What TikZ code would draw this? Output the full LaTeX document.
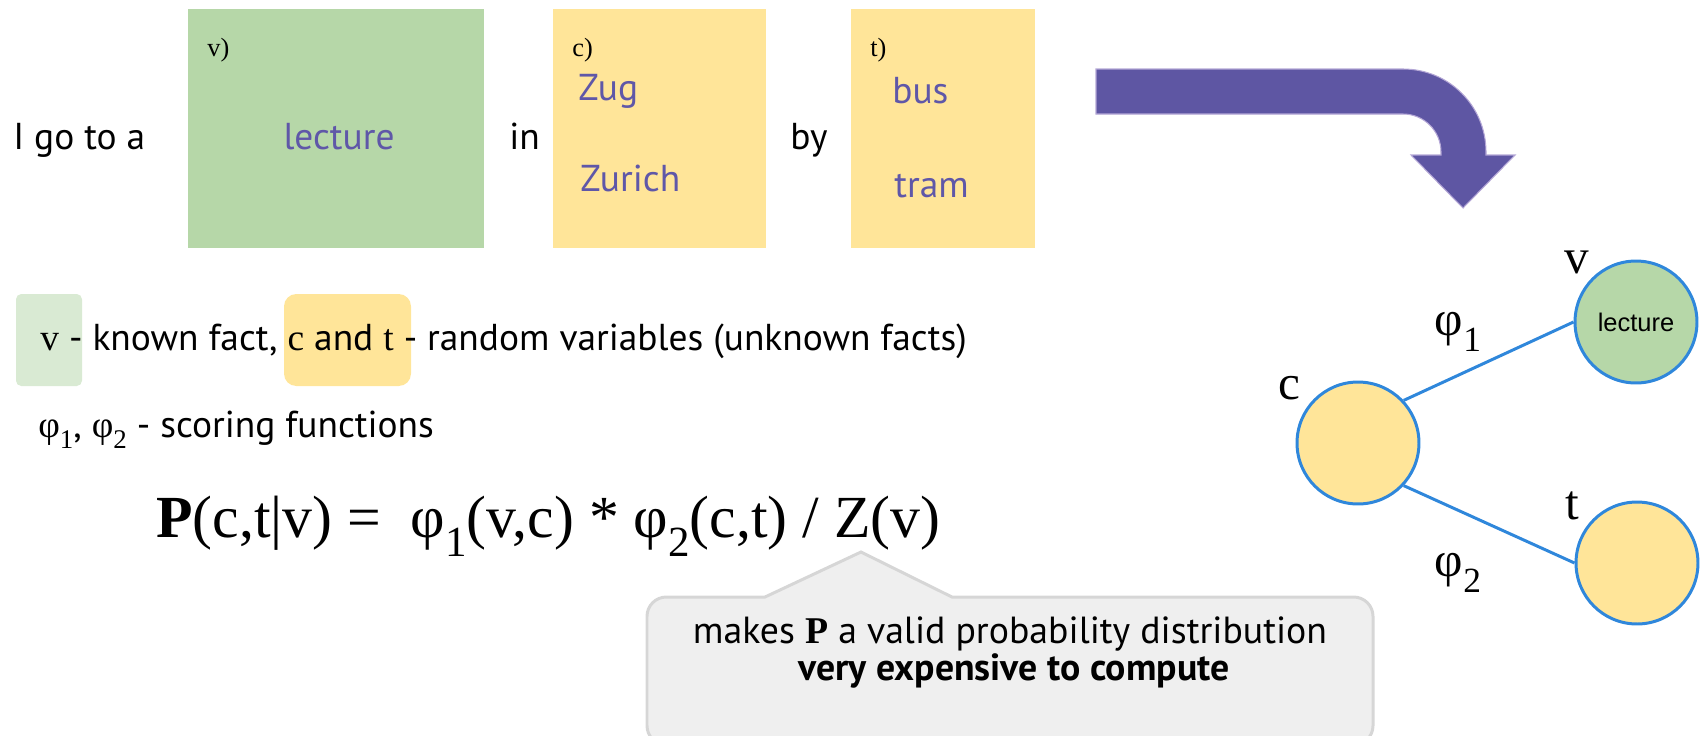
\documentclass[tikz,border=0pt]{standalone}
\usepackage{fontspec}
\setmainfont{PT Sans}
\newfontfamily\serifsym{Liberation Serif}
\newfontfamily\arialsym{Liberation Sans}
\usetikzlibrary{positioning}

\definecolor{knowngreen}{HTML}{B6D7A8}
\definecolor{palegreen}{HTML}{D9EAD3}
\definecolor{unknownyellow}{HTML}{FFE599}
\definecolor{wordpurple}{HTML}{5F57A8}
\definecolor{arrowpurple}{HTML}{5E56A3}
\definecolor{arrowrim}{HTML}{B4A7D6}
\definecolor{factorblue}{HTML}{2F87DB}
\definecolor{notegray}{HTML}{EFEFEF}
\definecolor{noterim}{HTML}{D6D6D6}

\newcommand{\sym}[1]{{\serifsym #1}}
\newcommand{\lowsub}[1]{\raisebox{-0.32em}{\scalebox{0.72}{#1}}}

\tikzstyle{factbox} = [rectangle, inner sep=0pt, minimum height=4.78cm]
\tikzstyle{sentence} = [inner sep=0pt, anchor=base west, font=\fontsize{21.3}{24}\selectfont]
\tikzstyle{factorline} = [line width=1.7pt, draw=factorblue]

\begin{document}
\begin{tikzpicture}[x=0.02cm, y=-0.02cm,
    wordtext/.style={sentence, text=wordpurple},
    slotmark/.style={inner sep=0pt, anchor=base west, font=\serifsym\fontsize{15}{17}\selectfont},
    varnode/.style={circle, draw=factorblue, line width=1.7pt, minimum size=2.44cm, inner sep=0pt},
    varname/.style={inner sep=0pt, font=\serifsym\fontsize{28}{30}\selectfont},
    formula/.style={inner sep=0pt, anchor=base west, font=\serifsym\fontsize{34}{40}\selectfont},
    notetext/.style={inner sep=0pt, anchor=base, font=\fontsize{21.5}{24}\selectfont}]
    \useasboundingbox (0,0) rectangle (1705,735);

    % Sentence with the three slots
    \node[sentence] (igo) at (13,149) {I go to a};
    \node[factbox, fill=knowngreen, minimum width=5.92cm] (vbox) at (336,128.5) {};
    \node[slotmark] (vmark) at (207,56) {v)};
    \node[wordtext, anchor=base] (lecture) at (339,149) {lecture};
    \node[sentence] (in) at (509,149) {in};
    \node[factbox, fill=unknownyellow, minimum width=4.26cm] (cbox) at (659.5,128.5) {};
    \node[slotmark] (cmark) at (572,56) {c)};
    \node[wordtext] (zug) at (578,100) {Zug};
    \node[wordtext] (zurich) at (580,191) {Zurich};
    \node[sentence] (by) at (790,149) {by};
    \node[factbox, fill=unknownyellow, minimum width=3.68cm] (tbox) at (943,128.5) {};
    \node[slotmark] (tmark) at (870,56) {t)};
    \node[wordtext] (bus) at (892,103) {bus};
    \node[wordtext] (tram) at (894,197) {tram};

    % Bent arrow towards the graph
    \draw[fill=arrowpurple, draw=arrowrim, line width=0.6pt] (1096,69) -- (1403,69)
        .. controls (1449,69) and (1486,106) .. (1486,152) -- (1486,155) -- (1515,155)
        -- (1463,208) -- (1411,155) -- (1441,155) -- (1441,152)
        .. controls (1441,131) and (1424,114) .. (1403,114) -- (1096,114) -- cycle;

    % Legend
    \fill[palegreen, rounded corners=3pt] (16,294) rectangle (82,386);
    \fill[unknownyellow, rounded corners=7pt] (284,294) rectangle (411,386);
    \node[sentence] (facts) at (40,350) {\sym{v} - known fact, \sym{c} and \sym{t} - random variables (unknown facts)};
    \node[sentence] (scoring) at (38,437) {\sym{φ\lowsub{1}}, \sym{φ\lowsub{2}} - scoring functions};

    % Formula and its note
    \node[formula] (joint) at (156,537) {\textbf{P}(c,t|v) =\ \ φ\lowsub{1}(v,c) * φ\lowsub{2}(c,t) / Z(v)};
    \draw[fill=notegray, draw=noterim, line width=1.7pt] (1000,597) [rounded corners=11pt] -- (1373,597)
        -- (1373,745) -- (647,745) -- (647,597) [sharp corners] -- (765,597) -- (861,552) -- (952,597) -- cycle;
    \node[notetext] (note1) at (1010,643) {makes \sym{\textbf{P}} a valid probability distribution};
    \node[notetext] (note2) at (1014,680) {\textbf{very expensive to compute}};

    % Factor graph
    \node[varnode, fill=knowngreen] (v) at (1636,322) {\arialsym\fontsize{14.5}{16}\selectfont lecture};
    \node[varnode, fill=unknownyellow] (c) at (1358,443) {};
    \node[varnode, fill=unknownyellow] (t) at (1637,563) {};
    \draw[factorline] (c.43) -- (v.west);
    \draw[factorline] (c.-43) -- (t.west);
    \node[varname] (vname) at (1577,262) {v};
    \node[varname] (cname) at (1289,388) {c};
    \node[varname] (tname) at (1572,506) {t};
    \node[varname] (phi1) at (1458,332) {φ\lowsub{1}};
    \node[varname] (phi2) at (1458,573) {φ\lowsub{2}};

\end{tikzpicture}
\end{document}
